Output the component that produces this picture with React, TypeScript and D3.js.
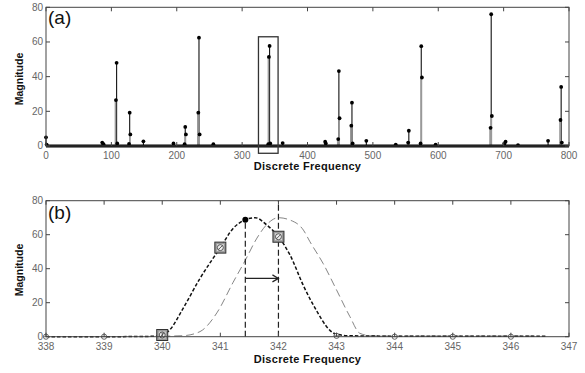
import React from "react";
import * as d3 from "d3";

// ---------- Panel (a) data ----------
const stemFreq = [0, 1, 86, 88, 107, 108, 109, 127, 128, 129, 149, 195, 212, 213, 214, 233, 234, 235, 256, 340, 341, 342, 343, 362, 427, 428, 447, 448, 449, 467, 468, 469, 490, 535, 554, 555, 573, 574, 575, 596, 680, 681, 682, 701, 703, 722, 768, 787, 788, 789];
const stemMag = [5, 0.8, 2, 1, 26.5, 48, 1.5, 1.2, 19.2, 6.7, 2.7, 1.5, 1, 11, 6.7, 19.2, 62.5, 6.7, 1, 1, 51.4, 57.7, 1.5, 1.7, 2.5, 1.5, 4, 43.2, 16, 11.7, 25, 1.5, 3, 0.8, 2, 8.8, 1.5, 57.6, 39.5, 0.8, 10.5, 76, 17.3, 1.5, 2.5, 0.5, 3, 15, 34.1, 2];
const aXTicks = [0, 100, 200, 300, 400, 500, 600, 700, 800];
const yTicks = [0, 20, 40, 60, 80];
const boxFreq = [325, 355];
const boxMag = [-4.2, 63];

// ---------- Panel (b) data ----------
const darkFreq = [338, 339, 339.8, 340, 340.13, 340.36, 340.65, 341, 341.22, 341.43, 341.6, 341.8, 342, 342.2, 342.43, 342.66, 342.83, 342.97, 343.2, 344, 345, 346, 346.6];
const darkMag = [0, 0, 0.2, 0.8, 4, 16.7, 34.3, 52.4, 63.7, 68.8, 70, 65.7, 58.8, 48, 30, 15, 5.9, 1.8, 0.6, 0.3, 0.3, 0.3, 0.3];
const lightFreq = [340, 340.36, 340.65, 340.94, 341.22, 341.43, 341.63, 341.8, 342, 342.2, 342.43, 342.54, 342.77, 343, 343.23, 343.4, 343.6, 344, 345, 346, 346.45];
const lightMag = [0.3, 0.6, 3, 14, 32, 45, 58, 66, 70, 68.6, 62.7, 56, 43, 27.5, 11.8, 2, 0.5, 0.4, 0.4, 0.4, 0.4];
const circleFreq = [338, 339, 343, 344, 345, 346];
const circleMag = [0, 0, 0.5, 0, 0, 0];
const squareFreq = [340, 341, 342];
const squareMag = [1, 52.4, 58.8];
const peakFreq = 341.43;
const peakMag = 68.8;
const binFreq = 342;
const arrowMag = 34.3;
const bXTicks = [338, 339, 340, 341, 342, 343, 344, 345, 346, 347];

const W = 585;
const H = 373;
const L = 46;
const R = 569;
const FONT = "'Liberation Sans', Arial, sans-serif";
const TICKFONT = "'Liberation Sans Narrow', 'Liberation Sans', Arial, sans-serif";

function Frame({ x, y, xTicks, yTicksV }: any) {
  const [x0, x1] = x.range();
  const [y0, y1] = y.range();
  const t = 4;
  return (
    <g>
      {xTicks.map((v: number) => (
        <g key={"xt" + v}>
          <line x1={x(v)} x2={x(v)} y1={y0} y2={y0 - t} stroke="#444" strokeWidth={1} />
          <line x1={x(v)} x2={x(v)} y1={y1} y2={y1 + t} stroke="#444" strokeWidth={1} />
          <text x={x(v)} y={y0 + 13} textAnchor="middle" fontSize={10} fill="#666" fontFamily={TICKFONT}>
            {v}
          </text>
        </g>
      ))}
      {yTicksV.map((v: number) => (
        <g key={"yt" + v}>
          <line x1={x0} x2={x0 + t} y1={y(v)} y2={y(v)} stroke="#444" strokeWidth={1} />
          <line x1={x1} x2={x1 - t} y1={y(v)} y2={y(v)} stroke="#444" strokeWidth={1} />
          <text x={x0 - 3} y={y(v) + 3.4} textAnchor="end" fontSize={10} fill="#666" fontFamily={TICKFONT}>
            {v}
          </text>
        </g>
      ))}
      <rect x={x0} y={y1} width={x1 - x0} height={y0 - y1} fill="none" stroke="#444" strokeWidth={1} />
    </g>
  );
}

export default function App() {
  // panel a scales
  const xa = d3.scaleLinear().domain([0, 800]).range([L, R]);
  const ya = d3.scaleLinear().domain([0, 80]).range([146, 7.3]);
  // panel b scales
  const xb = d3.scaleLinear().domain([338, 347]).range([L, R]);
  const yb = d3.scaleLinear().domain([0, 80]).range([336.7, 200.7]);

  const stems = stemFreq.map((f, i) => ({ f, m: stemMag[i] }));
  const isSecondary = (i: number) =>
    stems.some((s, j) => j !== i && Math.abs(s.f - stems[i].f) <= 1 && s.m > stems[i].m);

  const darkLine = d3
    .line<number>()
    .x((_, i) => xb(darkFreq[i]))
    .y((d) => yb(d))
    .curve(d3.curveMonotoneX)(darkMag) as string;
  const lightLine = d3
    .line<number>()
    .x((_, i) => xb(lightFreq[i]))
    .y((d) => yb(d))
    .curve(d3.curveMonotoneX)(lightMag) as string;

  const ax0 = xb(peakFreq);
  const ax1 = xb(binFreq);
  const ay = yb(arrowMag);

  return (
    <svg width={W} height={H} style={{ position: "absolute", left: 0, top: 0, background: "#fff" }}>
      <rect x={0} y={0} width={W} height={H} fill="#fff" />
      {/* ---------- Panel (a) ---------- */}
      <g>
        {stems.map((s, i) =>
          !isSecondary(i) ? (
            <line key={"s" + i} x1={xa(s.f)} x2={xa(s.f)} y1={ya(0)} y2={ya(s.m)} stroke="#111" strokeWidth={1.1} />
          ) : null
        )}
        {stems.map((s, i) =>
          isSecondary(i) ? (
            <line key={"g" + i} x1={xa(s.f) - 0.5} x2={xa(s.f) - 0.5} y1={ya(0)} y2={ya(s.m)} stroke="#999" strokeWidth={1.6} />
          ) : null
        )}
        <line x1={xa(0)} x2={xa(800)} y1={ya(0)} y2={ya(0)} stroke="#000" strokeWidth={3.2} />
        {stems.map((s, i) => (
          <circle key={"d" + i} cx={xa(s.f)} cy={ya(s.m)} r={1.9} fill="#000" />
        ))}
        <rect
          x={xa(boxFreq[0])}
          y={ya(boxMag[1])}
          width={xa(boxFreq[1]) - xa(boxFreq[0])}
          height={ya(boxMag[0]) - ya(boxMag[1])}
          fill="none"
          stroke="#333"
          strokeWidth={1.3}
        />
        <Frame x={xa} y={ya} xTicks={aXTicks} yTicksV={yTicks} />
        <text x={48} y={24} fontSize={19} fontFamily={FONT} fill="#111">(a)</text>
        <text x={(L + R) / 2} y={170} textAnchor="middle" fontSize={11} fontWeight="bold" fontFamily={FONT} fill="#111" letterSpacing={0.3}>
          Discrete Frequency
        </text>
        <text transform={`translate(23,79) rotate(-90)`} textAnchor="middle" fontSize={10.5} fontWeight="bold" fontFamily={FONT} fill="#111">
          Magnitude
        </text>
      </g>

      {/* ---------- Panel (b) ---------- */}
      <g>
        <path d={lightLine} fill="none" stroke="#666" strokeWidth={0.8} strokeDasharray="8,4" />
        <path d={darkLine} fill="none" stroke="#111" strokeWidth={1.5} strokeDasharray="3.5,2" />
        <line x1={ax0} x2={ax0} y1={yb(0)} y2={yb(peakMag)} stroke="#222" strokeWidth={1.2} strokeDasharray="6,3" />
        <line x1={ax1} x2={ax1} y1={yb(0)} y2={yb(80)} stroke="#222" strokeWidth={1.2} strokeDasharray="6,3" />
        <line x1={ax0} x2={ax1} y1={ay} y2={ay} stroke="#222" strokeWidth={1.2} />
        <path d={`M${ax1 - 6},${ay - 3.5} L${ax1},${ay} L${ax1 - 6},${ay + 3.5}`} fill="none" stroke="#222" strokeWidth={1.2} />
        {circleFreq.map((f, i) => (
          <g key={"c" + i}>
            <circle cx={xb(f)} cy={yb(circleMag[i])} r={2.6} fill="#fff" stroke="#555" strokeWidth={0.9} />
            <line x1={xb(f) - 2.6} x2={xb(f) + 2.6} y1={yb(circleMag[i])} y2={yb(circleMag[i])} stroke="#555" strokeWidth={0.8} />
          </g>
        ))}
        {squareFreq.map((f, i) => {
          const cx = xb(f);
          const cy = yb(squareMag[i]);
          return (
            <g key={"q" + i}>
              <rect x={cx - 5.5} y={cy - 5.5} width={11} height={11} fill="#9a9a9a" stroke="#333" strokeWidth={1} />
              <rect x={cx - 3.5} y={cy - 3.5} width={7} height={7} fill="#ddd" stroke="none" />
              <circle cx={cx} cy={cy} r={3} fill="#eee" stroke="#333" strokeWidth={0.8} />
              <line x1={cx - 2} x2={cx + 2} y1={cy + 2} y2={cy - 2} stroke="#333" strokeWidth={0.8} />
            </g>
          );
        })}
        <circle cx={xb(peakFreq)} cy={yb(peakMag)} r={3} fill="#000" />
        <Frame x={xb} y={yb} xTicks={bXTicks} yTicksV={yTicks} />
        <text x={48} y={219} fontSize={19} fontFamily={FONT} fill="#111">(b)</text>
        <text x={(L + R) / 2} y={363} textAnchor="middle" fontSize={11} fontWeight="bold" fontFamily={FONT} fill="#111" letterSpacing={0.3}>
          Discrete Frequency
        </text>
        <text transform={`translate(23,270) rotate(-90)`} textAnchor="middle" fontSize={10.5} fontWeight="bold" fontFamily={FONT} fill="#111">
          Magnitude
        </text>
      </g>
    </svg>
  );
}
